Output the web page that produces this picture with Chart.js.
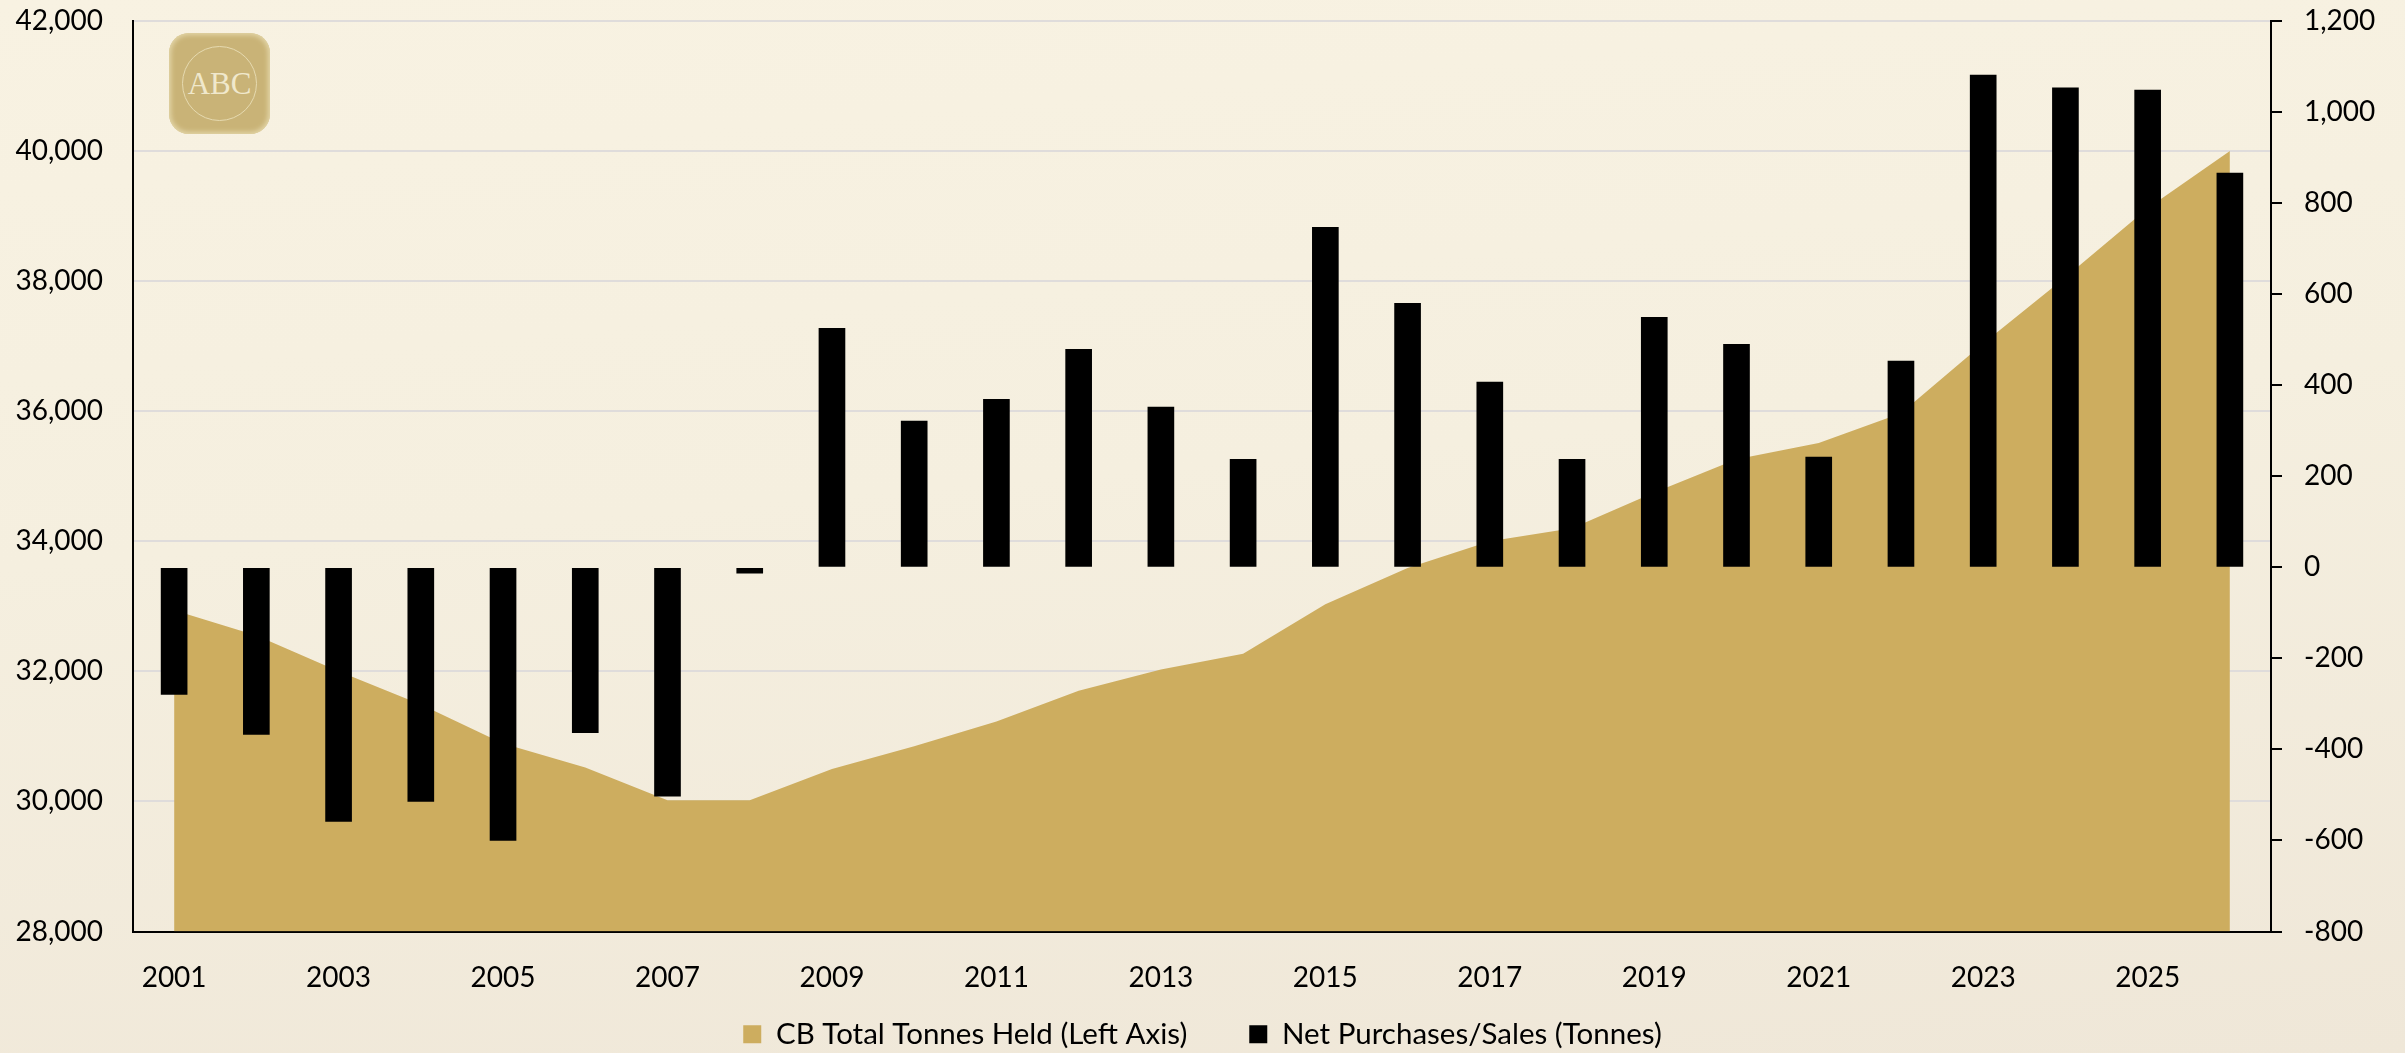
<!DOCTYPE html>
<html>
<head>
<meta charset="utf-8">
<script src="https://cdn.jsdelivr.net/npm/chart.js@4"></script>
<style>
    html, body {margin: 0; padding: 0; width: 2405px; height: 1053px; overflow: hidden;}
    body {background: linear-gradient(175deg, #f8f2e2 0%, #f5efdf 45%, #efe7d8 100%); position: relative;}
    #chartBox {position: absolute; left: 0; top: 0; width: 2405px; height: 1053px;}
    #logo {position: absolute; left: 169px; top: 33px; width: 101px; height: 101px; border-radius: 20px; background: #c9b377; box-shadow: inset 0 0 5px 2px #e4d7aa;}
    #logo div {position: absolute; left: 13px; top: 13px; width: 73px; height: 73px; border: 1px solid #e6dab0; border-radius: 50%; color: #f0e8cc; font: 31px/73px "Liberation Serif", serif; text-align: center;}
</style>
</head>
<body>
<div id="chartBox"><canvas id="goldChart" width="2405" height="1053"></canvas></div>
<div id="logo"><div>ABC</div></div>
<script>
const years = ['2001', '2002', '2003', '2004', '2005', '2006', '2007', '2008', '2009', '2010', '2011', '2012', '2013',
    '2014', '2015', '2016', '2017', '2018', '2019', '2020', '2021', '2022', '2023', '2024', '2025', '2026'];
const tonnesHeld = [32940, 32550, 32000, 31490, 30890, 30520, 30020, 30020, 30500, 30850, 31230, 31700, 32030,
    32270, 33030, 33590, 34000, 34200, 34750, 35260, 35510, 35970, 37040, 38060, 39120, 40000];
const netPurchases = [-279, -367, -558, -514, -600, -363, -503, -13, 525, 321, 369, 479, 352,
    237, 747, 580, 407, 237, 549, 490, 242, 453, 1081, 1053, 1048, 866];

const labelFont = {family: 'Lato', size: 28};

// the legend needs a tall box for its wide gap, so let the year labels run down past the x scale box
const unclipYears = {
    id: 'unclipYears',
    afterLayout(chart) {
        chart.scales.x.bottom = chart.height;
    }
};

new Chart(document.getElementById('goldChart').getContext('2d'), {
    data: {
        labels: years,
        datasets: [{
            type: 'line',
            label: 'CB Total Tonnes Held (Left Axis)',
            data: tonnesHeld,
            yAxisID: 'y',
            order: 2,
            fill: 'start',
            tension: 0,
            borderWidth: 0,
            pointRadius: 0,
            borderColor: '#cdad5f',
            backgroundColor: '#cdad5f'
        }, {
            type: 'bar',
            label: 'Net Purchases/Sales (Tonnes)',
            data: netPurchases,
            yAxisID: 'y1',
            order: 1,
            barThickness: 26,
            backgroundColor: '#000000'
        }]
    },
    plugins: [unclipYears],
    options: {
        responsive: false,
        animation: false,
        layout: {padding: {top: 21, left: 0, right: 0, bottom: -6}},
        scales: {
            x: {
                grid: {display: false},
                border: {color: '#000', width: 2},
                ticks: {
                    color: '#000',
                    font: labelFont,
                    padding: 22,
                    autoSkip: false,
                    maxRotation: 0,
                    callback: (value, index) => index % 2 === 0 ? years[index] : ''
                },
                afterFit: scale => { scale.height = 26; scale.paddingLeft = 0; scale.paddingRight = 0; }
            },
            y: {
                position: 'left',
                min: 28000,
                max: 42000,
                grid: {color: '#dfdcdb', lineWidth: 2, drawTicks: false},
                border: {color: '#000', width: 2},
                ticks: {
                    color: '#000',
                    font: labelFont,
                    padding: 30,
                    stepSize: 2000,
                    callback: value => value.toLocaleString('en-US')
                },
                afterFit: scale => { scale.width = 133; scale.paddingTop = 0; scale.paddingBottom = 0; }
            },
            y1: {
                position: 'right',
                min: -800,
                max: 1200,
                grid: {drawOnChartArea: false, color: '#000', lineWidth: 2, tickLength: 11},
                border: {color: '#000', width: 2},
                ticks: {
                    color: '#000',
                    font: labelFont,
                    padding: 22,
                    stepSize: 200,
                    callback: value => value.toLocaleString('en-US')
                },
                afterFit: scale => { scale.width = 134; scale.paddingTop = 0; scale.paddingBottom = 0; }
            }
        },
        plugins: {
            tooltip: {enabled: false},
            legend: {
                position: 'bottom',
                labels: {
                    color: '#000',
                    font: {family: 'Lato', size: 29.5},
                    boxWidth: 18,
                    boxHeight: 18,
                    padding: 62,
                    sort: (a, b) => a.datasetIndex - b.datasetIndex
                }
            }
        }
    }
});
</script>
</body>
</html>
